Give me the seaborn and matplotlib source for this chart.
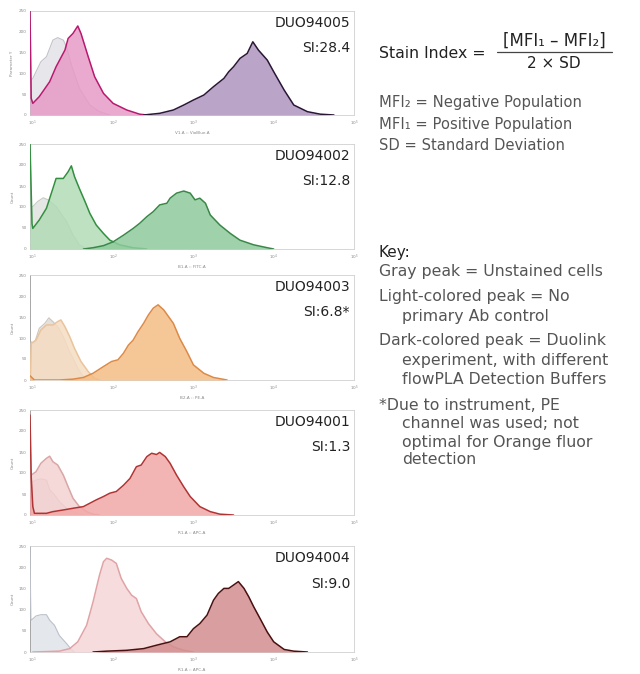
import numpy as np
import matplotlib
matplotlib.use("Agg")
import matplotlib.pyplot as plt
import seaborn as sns

# ---- data: log10(intensity) positions and counts ----
# panel 1 : DUO94005
p1_gray_x = [0.97, 0.98, 1.00, 1.10, 1.17, 1.25, 1.31, 1.38, 1.42, 1.48, 1.58, 1.71, 1.83, 1.96]
p1_gray_y = [0, 84, 88, 128, 140, 180, 186, 180, 164, 120, 64, 24, 8, 0]
p1_light_x = [0.965, 0.98, 1.00, 1.08, 1.21, 1.29, 1.40, 1.44, 1.50, 1.56, 1.60, 1.69, 1.77, 1.88, 2.00, 2.17, 2.33, 2.42]
p1_light_y = [250, 40, 28, 44, 80, 116, 156, 184, 196, 214, 196, 140, 92, 52, 28, 12, 2, 0]
p1_dark_x = [2.38, 2.58, 2.75, 2.88, 3.00, 3.13, 3.25, 3.38, 3.44, 3.50, 3.58, 3.67, 3.74, 3.81, 3.92, 4.00, 4.13, 4.25, 4.42, 4.58, 4.75]
p1_dark_y = [0, 4, 12, 24, 36, 48, 68, 88, 104, 116, 136, 148, 176, 156, 132, 104, 60, 24, 8, 2, 0]

# panel 2 : DUO94002
p2_gray_x = [0.97, 0.98, 1.00, 1.06, 1.13, 1.19, 1.29, 1.42, 1.50, 1.58, 1.67]
p2_gray_y = [0, 100, 101, 113, 122, 117, 101, 65, 33, 10, 0]
p2_light_x = [0.965, 0.99, 1.00, 1.08, 1.17, 1.25, 1.29, 1.38, 1.44, 1.48, 1.52, 1.58, 1.65, 1.71, 1.79, 1.88, 1.96, 2.08, 2.25, 2.42]
p2_light_y = [250, 60, 49, 69, 97, 144, 168, 168, 184, 198, 172, 144, 113, 85, 57, 37, 21, 10, 3, 0]
p2_dark_x = [1.63, 1.75, 1.88, 2.00, 2.13, 2.25, 2.33, 2.42, 2.50, 2.58, 2.67, 2.71, 2.79, 2.88, 2.96, 3.02, 3.08, 3.15, 3.21, 3.33, 3.46, 3.58, 3.75, 3.92, 4.00]
p2_dark_y = [0, 3, 8, 17, 33, 49, 61, 77, 89, 105, 109, 121, 133, 138, 133, 117, 121, 109, 81, 57, 37, 21, 10, 3, 0]

# panel 3 : DUO94003
p3_gray_x = [0.97, 0.98, 1.02, 1.08, 1.15, 1.20, 1.25, 1.31, 1.38, 1.44, 1.50, 1.56, 1.63, 1.69]
p3_gray_y = [0, 91, 87, 123, 135, 148, 139, 127, 103, 75, 52, 28, 8, 0]
p3_light_x = [0.97, 0.98, 1.04, 1.10, 1.17, 1.25, 1.31, 1.35, 1.40, 1.46, 1.52, 1.60, 1.69, 1.77, 1.83]
p3_light_y = [0, 87, 95, 119, 131, 131, 139, 143, 127, 103, 75, 44, 20, 4, 0]
p3_dark_x = [0.965, 1.02, 1.33, 1.50, 1.63, 1.75, 1.88, 1.98, 2.06, 2.13, 2.19, 2.25, 2.31, 2.38, 2.44, 2.50, 2.56, 2.63, 2.69, 2.75, 2.83, 2.92, 3.00, 3.13, 3.25, 3.42]
p3_dark_y = [10, 0, 0, 2, 6, 16, 32, 44, 48, 64, 83, 95, 115, 135, 155, 171, 179, 167, 151, 135, 99, 67, 36, 16, 6, 0]

# panel 4 : DUO94001
p4_gray_x = [0.97, 0.98, 1.04, 1.10, 1.17, 1.21, 1.27, 1.33, 1.42, 1.50, 1.58, 1.65]
p4_gray_y = [0, 78, 83, 86, 83, 60, 48, 32, 16, 8, 2, 0]
p4_light_x = [0.97, 0.98, 1.04, 1.10, 1.17, 1.21, 1.25, 1.31, 1.38, 1.44, 1.50, 1.58, 1.67, 1.75, 1.83]
p4_light_y = [0, 95, 103, 123, 135, 140, 127, 119, 95, 67, 40, 20, 8, 2, 0]
p4_dark_x = [0.965, 0.98, 1.00, 1.02, 1.17, 1.25, 1.38, 1.50, 1.63, 1.71, 1.79, 1.88, 1.96, 2.04, 2.13, 2.21, 2.29, 2.35, 2.42, 2.48, 2.54, 2.58, 2.65, 2.71, 2.79, 2.88, 2.96, 3.08, 3.21, 3.33, 3.50]
p4_dark_y = [238, 91, 20, 4, 4, 8, 12, 16, 20, 28, 36, 44, 52, 56, 71, 87, 115, 119, 139, 147, 144, 149, 139, 123, 95, 67, 44, 20, 8, 2, 0]

# panel 5 : DUO94004
p5_gray_x = [0.965, 0.975, 0.98, 1.04, 1.10, 1.17, 1.21, 1.27, 1.33, 1.42, 1.48, 1.52]
p5_gray_y = [250, 80, 75, 85, 88, 88, 75, 63, 39, 20, 6, 0]
p5_light_x = [1.00, 1.33, 1.46, 1.56, 1.67, 1.75, 1.83, 1.88, 1.92, 1.98, 2.04, 2.10, 2.17, 2.23, 2.29, 2.35, 2.44, 2.54, 2.65, 2.75, 2.88, 3.00]
p5_light_y = [0, 2, 8, 24, 63, 118, 181, 213, 221, 217, 209, 174, 150, 134, 126, 95, 67, 43, 24, 12, 4, 0]
p5_dark_x = [1.75, 1.92, 2.17, 2.38, 2.54, 2.71, 2.83, 2.92, 3.00, 3.08, 3.17, 3.25, 3.31, 3.38, 3.44, 3.50, 3.56, 3.63, 3.69, 3.75, 3.83, 3.92, 4.00, 4.13, 4.25, 4.42]
p5_dark_y = [0, 2, 4, 8, 16, 24, 36, 36, 55, 67, 87, 122, 138, 150, 150, 158, 166, 150, 130, 107, 79, 47, 24, 6, 2, 0]

names = ["DUO94005", "DUO94002", "DUO94003", "DUO94001", "DUO94004"]
stain_idx = ["SI:28.4", "SI:12.8", "SI:6.8*", "SI:1.3", "SI:9.0"]
x_labels = ["V1-A :: VioBlue-A", "B1-A :: FITC-A", "B2-A :: PE-A", "R1-A :: APC-A", "R1-A :: APC-A"]
y_labels = ["Parameter Y", "Count", "Count", "Count", "Count"]
y_ticks = [0, 50, 100, 150, 200, 250]

# (fill, line) colours for gray / light / dark peaks
colors = [
    [("#e2e2e8", "#c2c2ca"), ("#e79ac6", "#b8196f"), ("#ae96c0", "#2a1636")],
    [("#e0e3e0", "#c4cac4"), ("#b2dcb6", "#338f40"), ("#8ecb9b", "#3a8748")],
    [("#e0dbd6", "#cdc5be"), ("#f5dcc2", "#e9c49c"), ("#f5bd84", "#dc8a48")],
    [("#e6dada", "#c9abab"), ("#f4d2d2", "#d9a6a6"), ("#f2a8a6", "#b03434")],
    [("#e0e3e9", "#bcc1ca"), ("#f6d6d8", "#e0a3a6"), ("#d38d8e", "#4a1010")],
]

curves = [
    [(p1_gray_x, p1_gray_y), (p1_light_x, p1_light_y), (p1_dark_x, p1_dark_y)],
    [(p2_gray_x, p2_gray_y), (p2_light_x, p2_light_y), (p2_dark_x, p2_dark_y)],
    [(p3_gray_x, p3_gray_y), (p3_light_x, p3_light_y), (p3_dark_x, p3_dark_y)],
    [(p4_gray_x, p4_gray_y), (p4_light_x, p4_light_y), (p4_dark_x, p4_dark_y)],
    [(p5_gray_x, p5_gray_y), (p5_light_x, p5_light_y), (p5_dark_x, p5_dark_y)],
]

sns.set_style("white")
plt.rcParams["font.family"] = ["DejaVu Sans"]

W, H = 640, 674
fig = plt.figure(figsize=(6.4, 6.74), dpi=100)

# axes boxes in pixels: (top, bottom)
boxes = [(11, 115), (144, 249), (275, 380), (410, 515), (546, 652)]
left_px, right_px = 30, 354

for i in range(5):
    top, bot = boxes[i]
    ax = fig.add_axes([left_px / W, 1 - bot / H, (right_px - left_px) / W, (bot - top) / H])
    for j, (lx, cy) in enumerate(curves[i]):
        fc, lc = colors[i][j]
        xv = 10 ** np.array(lx)
        ax.fill_between(xv, cy, color=fc, alpha=0.85, lw=0, zorder=2 + j)
        sns.lineplot(x=xv, y=cy, ax=ax, color=lc, lw=0.8 if j == 0 else 1.1,
                     estimator=None, sort=False, zorder=3 + j)
    ax.set_xscale("log")
    ax.set_xlim(10 ** 0.965, 10 ** 5.0)
    ax.set_ylim(0, 250)
    ax.set_yticks(y_ticks)
    ax.set_xticks([10, 100, 1000, 10000, 100000])
    ax.tick_params(axis="both", labelsize=3, colors="#888888", length=1.5, width=0.4, pad=1)
    ax.tick_params(axis="x", which="minor", length=1, width=0.3, colors="#aaaaaa")
    ax.set_xlabel(x_labels[i], fontsize=3, color="#888888", labelpad=2)
    ax.set_ylabel(y_labels[i], fontsize=3, color="#888888", labelpad=3)
    for s in ["top", "right", "bottom"]:
        ax.spines[s].set_color("#d0d0d0")
        ax.spines[s].set_linewidth(0.6)
    ax.spines["left"].set_color("#999999")
    ax.spines["left"].set_linewidth(0.6)
    ax.text(0.988, 0.885, names[i], transform=ax.transAxes, ha="right", va="center",
            fontsize=10, color="#222222")
    ax.text(0.988, 0.645, stain_idx[i], transform=ax.transAxes, ha="right", va="center",
            fontsize=10, color="#222222")


def ftext(x, y, s, **kw):
    fig.text(x / W, 1 - y / H, s, **kw)


# stain index formula
ftext(379, 53, "Stain Index =", fontsize=11.3, color="#222222", va="center")
ftext(554, 41, "[MFI\u2081 \u2013 MFI\u2082]", fontsize=12, color="#222222", ha="center", va="center")
fig.add_artist(plt.Line2D([497 / W, 612 / W], [1 - 52 / H, 1 - 52 / H], color="#444444", lw=0.9))
ftext(554, 64, "2 \u00d7 SD", fontsize=11, color="#222222", ha="center", va="center")

body = "#555555"
ftext(379, 103, "MFI\u2082 = Negative Population", fontsize=10.6, color=body, va="center")
ftext(379, 124, "MFI\u2081 = Positive Population", fontsize=10.6, color=body, va="center")
ftext(379, 145, "SD = Standard Deviation", fontsize=10.6, color=body, va="center")

# key
ftext(379, 252, "Key:", fontsize=11, color="#222222", va="center")
key_lines = [
    (379, 272, "Gray peak = Unstained cells"),
    (379, 297, "Light-colored peak = No"),
    (402, 316, "primary Ab control"),
    (379, 341, "Dark-colored peak = Duolink"),
    (402, 360, "experiment, with different"),
    (402, 379, "flowPLA Detection Buffers"),
    (379, 405, "*Due to instrument, PE"),
    (402, 423, "channel was used; not"),
    (402, 442, "optimal for Orange fluor"),
    (402, 460, "detection"),
]
for x, y, s in key_lines:
    ftext(x, y, s, fontsize=11.3, color=body, va="center")

fig.savefig("out.png", dpi=100)
